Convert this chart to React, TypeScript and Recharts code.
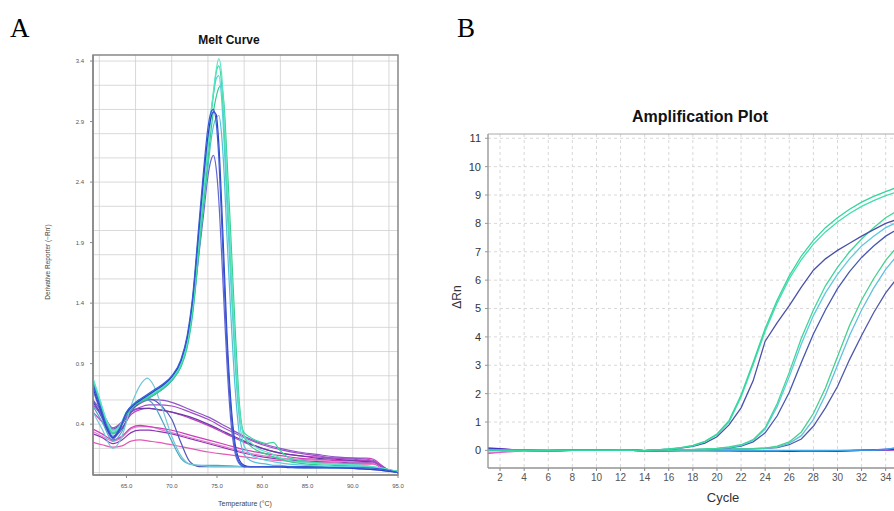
import React from 'react';
import { LineChart, Line, XAxis, YAxis, CartesianGrid, ReferenceArea } from 'recharts';

// ---------- A: melt curve ----------
const meltTempsMain = [61.3, 62, 62.8, 63.5, 64.2, 65, 66, 67, 68, 69, 70, 71, 71.7, 72.3, 73, 73.5, 74, 74.3, 74.6, 74.9, 75.2, 75.5, 75.8, 76.1, 76.5, 77, 77.5, 78, 78.7, 79.5, 80.5, 81.2, 82, 83, 85, 88, 91, 93, 95];
const meltTempsEarly = [61.3, 62.3, 63.5, 64.5, 65.5, 66.5, 67.3, 68, 69, 70, 71, 72, 73, 75, 78, 80, 85, 90, 93, 95];
const meltTempsBroad = [61.3, 62.3, 63.5, 64.5, 65.5, 66.5, 67.5, 68.5, 70, 72, 74, 76, 78, 80, 82, 84, 86, 88, 90, 91.5, 92.3, 93.2, 94, 95];

const meltMain1 = [0.78, 0.62, 0.43, 0.34, 0.38, 0.5, 0.58, 0.62, 0.66, 0.71, 0.78, 0.9, 1.08, 1.38, 1.95, 2.35, 2.72, 2.95, 3.15, 3.32, 3.42, 3.3, 2.95, 2.45, 1.85, 1.05, 0.5, 0.3, 0.25, 0.2, 0.17, 0.15, 0.12, 0.1, 0.08, 0.07, 0.06, 0.04, 0.01];
const meltMain2 = [0.76, 0.6, 0.41, 0.33, 0.37, 0.49, 0.57, 0.61, 0.65, 0.7, 0.77, 0.88, 1.05, 1.35, 1.9, 2.3, 2.68, 2.92, 3.12, 3.3, 3.36, 3.22, 2.85, 2.35, 1.75, 1.0, 0.48, 0.33, 0.29, 0.26, 0.24, 0.25, 0.18, 0.12, 0.09, 0.07, 0.06, 0.04, 0.01];
const meltMain3 = [0.74, 0.59, 0.41, 0.32, 0.36, 0.48, 0.56, 0.6, 0.64, 0.69, 0.76, 0.87, 1.03, 1.3, 1.82, 2.2, 2.58, 2.8, 2.98, 3.1, 3.18, 3.2, 3.02, 2.6, 2.0, 1.2, 0.55, 0.3, 0.22, 0.18, 0.15, 0.13, 0.11, 0.09, 0.07, 0.06, 0.05, 0.03, 0.01];
const meltMain4 = [0.77, 0.61, 0.43, 0.35, 0.38, 0.5, 0.58, 0.62, 0.67, 0.72, 0.79, 0.91, 1.1, 1.4, 1.96, 2.36, 2.72, 2.95, 3.12, 3.25, 3.28, 3.1, 2.7, 2.2, 1.6, 0.9, 0.42, 0.22, 0.15, 0.12, 0.1, 0.09, 0.08, 0.07, 0.06, 0.05, 0.05, 0.03, 0.01];
const meltMain5 = [0.73, 0.57, 0.39, 0.3, 0.36, 0.5, 0.58, 0.63, 0.68, 0.73, 0.8, 0.93, 1.13, 1.45, 2.05, 2.48, 2.85, 2.97, 3.0, 2.9, 2.6, 2.1, 1.55, 1.05, 0.55, 0.2, 0.08, 0.05, 0.05, 0.05, 0.05, 0.05, 0.05, 0.05, 0.05, 0.04, 0.04, 0.03, 0.0];
const meltMain6 = [0.7, 0.55, 0.37, 0.29, 0.35, 0.49, 0.57, 0.62, 0.67, 0.72, 0.79, 0.92, 1.11, 1.42, 2.0, 2.42, 2.78, 2.92, 2.98, 2.96, 2.72, 2.25, 1.7, 1.15, 0.62, 0.24, 0.1, 0.06, 0.05, 0.05, 0.05, 0.05, 0.05, 0.04, 0.04, 0.04, 0.03, 0.02, 0.0];
const meltMain7 = [0.68, 0.53, 0.36, 0.28, 0.34, 0.48, 0.56, 0.6, 0.64, 0.69, 0.76, 0.88, 1.05, 1.33, 1.8, 2.12, 2.45, 2.57, 2.62, 2.52, 2.25, 1.82, 1.35, 0.9, 0.45, 0.16, 0.07, 0.05, 0.05, 0.05, 0.05, 0.05, 0.05, 0.05, 0.04, 0.04, 0.03, 0.02, 0.0];
const meltMain8 = [0.72, 0.58, 0.4, 0.32, 0.36, 0.49, 0.57, 0.61, 0.66, 0.71, 0.78, 0.89, 1.06, 1.35, 1.85, 2.2, 2.52, 2.72, 2.86, 2.93, 2.95, 2.8, 2.45, 1.95, 1.35, 0.7, 0.3, 0.15, 0.1, 0.08, 0.07, 0.06, 0.06, 0.05, 0.05, 0.05, 0.04, 0.03, 0.0];

const meltEarly1 = [0.5, 0.36, 0.2, 0.3, 0.55, 0.72, 0.78, 0.72, 0.52, 0.3, 0.14, 0.07, 0.06, 0.05, 0.05, 0.05, 0.04, 0.04, 0.03, 0.0];
const meltEarly2 = [0.6, 0.45, 0.29, 0.36, 0.5, 0.58, 0.61, 0.6, 0.54, 0.44, 0.25, 0.09, 0.05, 0.05, 0.05, 0.05, 0.04, 0.04, 0.03, 0.0];
const meltEarly3 = [0.55, 0.42, 0.26, 0.34, 0.52, 0.6, 0.6, 0.56, 0.42, 0.26, 0.12, 0.07, 0.06, 0.06, 0.05, 0.05, 0.04, 0.04, 0.03, 0.0];

const meltBroad1 = [0.6, 0.5, 0.37, 0.42, 0.52, 0.57, 0.6, 0.6, 0.58, 0.52, 0.46, 0.38, 0.3, 0.24, 0.2, 0.17, 0.15, 0.13, 0.12, 0.11, 0.1, 0.05, 0.02, 0.01];
const meltBroad2 = [0.56, 0.47, 0.35, 0.4, 0.5, 0.54, 0.56, 0.56, 0.55, 0.5, 0.44, 0.36, 0.29, 0.23, 0.19, 0.16, 0.14, 0.12, 0.11, 0.1, 0.09, 0.05, 0.02, 0.01];
const meltBroad3 = [0.58, 0.48, 0.36, 0.41, 0.5, 0.53, 0.53, 0.52, 0.5, 0.46, 0.4, 0.33, 0.26, 0.2, 0.16, 0.14, 0.12, 0.11, 0.1, 0.09, 0.09, 0.05, 0.02, 0.01];
const meltBroad4 = [0.5, 0.42, 0.33, 0.37, 0.48, 0.52, 0.53, 0.52, 0.5, 0.45, 0.39, 0.32, 0.25, 0.2, 0.16, 0.14, 0.13, 0.12, 0.12, 0.12, 0.11, 0.06, 0.02, 0.01];
const meltBroad5 = [0.36, 0.32, 0.27, 0.3, 0.37, 0.39, 0.38, 0.37, 0.35, 0.31, 0.27, 0.23, 0.19, 0.16, 0.14, 0.12, 0.11, 0.1, 0.1, 0.1, 0.09, 0.05, 0.02, 0.01];
const meltBroad6 = [0.34, 0.3, 0.26, 0.29, 0.36, 0.38, 0.38, 0.36, 0.33, 0.29, 0.25, 0.21, 0.17, 0.14, 0.12, 0.11, 0.1, 0.09, 0.09, 0.09, 0.08, 0.04, 0.02, 0.01];
const meltBroad7 = [0.32, 0.29, 0.24, 0.27, 0.33, 0.35, 0.35, 0.34, 0.32, 0.28, 0.24, 0.2, 0.16, 0.13, 0.11, 0.1, 0.09, 0.09, 0.08, 0.08, 0.08, 0.04, 0.02, 0.01];
const meltBroad8 = [0.25, 0.23, 0.21, 0.22, 0.26, 0.27, 0.26, 0.25, 0.23, 0.2, 0.17, 0.15, 0.13, 0.11, 0.1, 0.09, 0.08, 0.08, 0.07, 0.07, 0.07, 0.04, 0.02, 0.01];

const meltXTicks = [65, 70, 75, 80, 85, 90, 95];
const meltYTicks = [0.4, 0.9, 1.4, 1.9, 2.4, 2.9, 3.4];

// ---------- B: amplification plot ----------
const cycles = [1, 2, 3, 4, 5, 6, 7, 8, 9, 10, 11, 12, 13, 14, 15, 16, 17, 18, 19, 20, 21, 22, 23, 24, 25, 26, 27, 28, 29, 30, 31, 32, 33, 34, 35, 36, 37, 38, 39, 40];

const ampG1a = [0.02, 0.01, 0.01, 0, -0.01, -0.01, 0, 0, 0, 0, 0, 0.01, 0, -0.01, 0.02, 0.05, 0.1, 0.18, 0.32, 0.58, 1.05, 1.95, 3.1, 4.3, 5.3, 6.15, 6.85, 7.4, 7.85, 8.2, 8.5, 8.75, 8.95, 9.12, 9.28, 9.4, 9.5, 9.58, 9.65, 9.7];
const ampG1b = [0.01, 0.01, 0, 0, -0.01, 0, 0, 0, 0, 0, 0, 0.01, 0, -0.01, 0.02, 0.04, 0.09, 0.16, 0.3, 0.55, 1.0, 1.88, 3.02, 4.2, 5.2, 6.05, 6.72, 7.27, 7.7, 8.05, 8.35, 8.6, 8.8, 8.98, 9.12, 9.24, 9.34, 9.42, 9.48, 9.53];
const ampG1c = [0.03, 0.02, 0.01, 0, -0.01, -0.01, 0, 0, 0, 0, 0, 0.01, 0, -0.01, 0.02, 0.04, 0.08, 0.14, 0.26, 0.48, 0.9, 1.5, 2.45, 3.85, 4.5, 5.1, 5.75, 6.35, 6.75, 7.05, 7.3, 7.55, 7.78, 8.0, 8.15, 8.28, 8.38, 8.46, 8.52, 8.57];
const ampG2a = [0.01, 0.01, 0, 0, 0, -0.01, 0, 0, 0, 0, 0, 0.01, 0, -0.01, 0, 0.01, 0.02, 0.03, 0.05, 0.07, 0.12, 0.2, 0.38, 0.8, 1.65, 2.75, 3.95, 4.95, 5.8, 6.45, 7.0, 7.45, 7.85, 8.2, 8.45, 8.65, 8.8, 8.92, 9.0, 9.06];
const ampG2b = [0.02, 0.01, 0, 0, -0.01, -0.01, 0, 0, 0, 0, 0, 0.01, 0, -0.01, 0, 0.01, 0.02, 0.03, 0.04, 0.06, 0.1, 0.18, 0.35, 0.75, 1.55, 2.6, 3.75, 4.75, 5.55, 6.2, 6.75, 7.2, 7.55, 7.85, 8.05, 8.22, 8.35, 8.45, 8.52, 8.58];
const ampG2c = [0.03, 0.02, 0.01, 0, -0.01, -0.01, 0, 0, 0, 0, 0, 0.01, 0, -0.01, 0, 0.01, 0.02, 0.03, 0.04, 0.06, 0.09, 0.15, 0.3, 0.62, 1.22, 2.05, 3.1, 4.1, 4.95, 5.7, 6.3, 6.8, 7.2, 7.55, 7.8, 8.0, 8.15, 8.27, 8.36, 8.43];
const ampG3a = [0.01, 0, 0, 0, 0, -0.01, 0, 0, 0, 0, 0, 0.01, 0, -0.01, 0, 0, 0.01, 0.01, 0.02, 0.03, 0.04, 0.05, 0.06, 0.08, 0.15, 0.3, 0.65, 1.3, 2.2, 3.3, 4.4, 5.3, 6.05, 6.7, 7.2, 7.6, 7.9, 8.12, 8.28, 8.4];
const ampG3b = [0.02, 0.01, 0, 0, -0.01, -0.01, 0, 0, 0, 0, 0, 0.01, 0, -0.01, 0, 0, 0.01, 0.01, 0.02, 0.03, 0.04, 0.05, 0.06, 0.07, 0.12, 0.25, 0.52, 1.08, 1.95, 3.0, 4.05, 4.95, 5.72, 6.38, 6.9, 7.32, 7.65, 7.9, 8.08, 8.2];
const ampG3c = [0.03, 0.02, 0.01, 0, -0.01, -0.01, 0, 0, 0, 0, 0, 0.01, 0, -0.01, 0, 0, 0.01, 0.01, 0.02, 0.03, 0.04, 0.05, 0.06, 0.07, 0.1, 0.2, 0.4, 0.85, 1.5, 2.25, 3.2, 4.05, 4.85, 5.55, 6.1, 6.55, 6.9, 7.15, 7.35, 7.5];

const ampN1 = [0.09, 0.06, 0.03, 0.01, 0, -0.01, -0.01, 0, 0, 0, 0, 0.01, 0, -0.01, -0.01, -0.01, -0.01, -0.01, -0.01, -0.01, -0.01, -0.01, -0.01, -0.01, -0.01, -0.02, -0.01, -0.01, -0.01, -0.02, -0.01, 0, 0.01, 0.02, 0.03, 0.03, 0.04, 0.04, 0.05, 0.05];
const ampN2 = [-0.1, -0.07, -0.04, -0.02, -0.01, 0, 0, 0, 0, 0, 0.01, 0.03, 0.01, -0.02, -0.01, -0.01, 0, 0, 0, 0, 0, -0.01, -0.01, -0.01, -0.01, -0.01, -0.01, -0.01, -0.02, -0.03, -0.01, 0, 0, 0.01, 0.01, 0.01, 0.02, 0.02, 0.02, 0.02];
const ampN3 = [-0.06, -0.05, -0.03, -0.02, -0.01, 0, 0, 0, 0, 0, 0, 0.02, 0.01, -0.01, -0.01, 0, 0, 0, 0, 0, 0, 0, 0, -0.01, -0.01, -0.01, -0.01, -0.01, -0.01, -0.02, -0.01, 0, 0, 0, 0.01, 0.01, 0.01, 0.01, 0.01, 0.01];
const ampN4 = [0.05, 0.04, 0.02, 0.01, 0, -0.01, -0.01, 0, 0, 0, 0, 0, 0, -0.01, -0.01, -0.01, -0.01, -0.01, -0.01, -0.01, -0.01, -0.02, -0.02, -0.02, -0.02, -0.03, -0.02, -0.02, -0.02, -0.02, -0.01, 0, 0.02, 0.03, 0.04, 0.05, 0.05, 0.06, 0.06, 0.06];
const ampN5 = [0.04, 0.03, 0.02, 0.01, 0, 0, -0.01, 0, 0, 0, 0, 0, 0, -0.01, -0.01, -0.01, 0, 0, 0, -0.01, -0.01, -0.01, -0.01, -0.01, -0.01, -0.02, -0.01, -0.01, -0.01, -0.01, 0, 0.01, 0.02, 0.04, 0.06, 0.07, 0.08, 0.08, 0.09, 0.09];
const ampN6 = [0.01, 0.01, 0, 0, 0, 0, 0, 0, 0, 0, 0, 0, 0, 0, 0, 0, 0, 0, 0, 0, 0, 0, 0, 0, 0, 0, 0, 0, 0, 0, 0, 0.01, 0.01, 0.03, 0.12, 0.2, 0.28, 0.35, 0.42, 0.48];

// only the cycle labels that fit in the visible part of the plot
const ampXTicks = [2, 4, 6, 8, 10, 12, 14, 16, 18, 20, 22, 24, 26, 28, 30, 32, 34];
const ampYTicks = [0, 1, 2, 3, 4, 5, 6, 7, 8, 9, 10, 11];

// series styling
const meltSeries = [
  { key: 'b8', temps: meltTempsBroad, values: meltBroad8, color: '#e25ab4' },
  { key: 'b7', temps: meltTempsBroad, values: meltBroad7, color: '#8a34b8' },
  { key: 'b6', temps: meltTempsBroad, values: meltBroad6, color: '#e07ccc' },
  { key: 'b5', temps: meltTempsBroad, values: meltBroad5, color: '#cf3cb8' },
  { key: 'b4', temps: meltTempsBroad, values: meltBroad4, color: '#c640c0' },
  { key: 'b3', temps: meltTempsBroad, values: meltBroad3, color: '#6a3aa8' },
  { key: 'b2', temps: meltTempsBroad, values: meltBroad2, color: '#a24cc8' },
  { key: 'b1', temps: meltTempsBroad, values: meltBroad1, color: '#8e58c4' },
  { key: 'e3', temps: meltTempsEarly, values: meltEarly3, color: '#4aa8c4' },
  { key: 'e2', temps: meltTempsEarly, values: meltEarly2, color: '#5058bc' },
  { key: 'e1', temps: meltTempsEarly, values: meltEarly1, color: '#74c6d6' },
  { key: 'm7', temps: meltTempsMain, values: meltMain7, color: '#6666d2' },
  { key: 'm8', temps: meltTempsMain, values: meltMain8, color: '#52c0d8' },
  { key: 'm3', temps: meltTempsMain, values: meltMain3, color: '#34cc8c' },
  { key: 'm4', temps: meltTempsMain, values: meltMain4, color: '#5ccfe0' },
  { key: 'm2', temps: meltTempsMain, values: meltMain2, color: '#3ad8a0' },
  { key: 'm1', temps: meltTempsMain, values: meltMain1, color: '#5ae6c4' },
  { key: 'm6', temps: meltTempsMain, values: meltMain6, color: '#2a40c6' },
  { key: 'm5', temps: meltTempsMain, values: meltMain5, color: '#3a5ad8' },
];

const ampSeries = [
  { key: 'n2', values: ampN2, color: '#d244c4' },
  { key: 'n3', values: ampN3, color: '#e27ed2' },
  { key: 'n1', values: ampN1, color: '#7a2ed0' },
  { key: 'n4', values: ampN4, color: '#2a2aa8' },
  { key: 'n5', values: ampN5, color: '#3050e0' },
  { key: 'n6', values: ampN6, color: '#40a8e8' },
  { key: 'g3c', values: ampG3c, color: '#5058aa' },
  { key: 'g3b', values: ampG3b, color: '#62bfe0' },
  { key: 'g3a', values: ampG3a, color: '#45d08f' },
  { key: 'g2c', values: ampG2c, color: '#4858b0' },
  { key: 'g2b', values: ampG2b, color: '#60c8e0' },
  { key: 'g2a', values: ampG2a, color: '#3fd69a' },
  { key: 'g1c', values: ampG1c, color: '#4a50a8' },
  { key: 'g1b', values: ampG1b, color: '#45dcb0' },
  { key: 'g1a', values: ampG1a, color: '#33d69c' },
];

const ampData = cycles.map((c, i) => {
  const row: Record<string, number> = { cycle: c };
  ampSeries.forEach((s) => { row[s.key] = s.values[i]; });
  return row;
});

// grid lines: every 1 °C and every 0.1 on the melt plot, every 2 cycles on the amplification plot
const meltGridX = Array.from({ length: 33 }, (_, i) => 62 + i);
const meltGridY = Array.from({ length: 35 }, (_, i) => i / 10);
const ampGridX = Array.from({ length: 20 }, (_, i) => 2 + i * 2);

const sans = '"Liberation Sans", Arial, Helvetica, sans-serif';
const serif = '"Liberation Serif", "Times New Roman", serif';

const abs = (left: number, top: number, extra: React.CSSProperties = {}): React.CSSProperties => ({
  position: 'absolute', left, top, transform: 'translate(-50%, -50%)', whiteSpace: 'nowrap', ...extra,
});

export default function App() {
  return (
    <div style={{ position: 'fixed', left: 0, top: 0, width: 894, height: 511, overflow: 'hidden', background: '#fff', fontFamily: sans }}>
      <div style={{ position: 'absolute', left: 10, top: 13, fontFamily: serif, fontSize: 27, lineHeight: '30px' }}>A</div>
      <div style={{ position: 'absolute', left: 457, top: 13, fontFamily: serif, fontSize: 27, lineHeight: '30px' }}>B</div>

      {/* Panel A */}
      <div style={abs(229, 40, { fontSize: 12, fontWeight: 700, color: '#111' })}>Melt Curve</div>
      <div style={abs(245, 503, { fontSize: 7, color: '#444' })}>Temperature (°C)</div>
      <div style={abs(47, 262, { fontSize: 6.5, color: '#444', transform: 'translate(-50%, -50%) rotate(-90deg)' })}>Derivative Reporter (−Rn′)</div>
      <div style={{ position: 'absolute', left: 0, top: 0 }}>
        <LineChart width={430} height={511} margin={{ top: 55, right: 32, bottom: 16, left: 63 }}>
          <CartesianGrid stroke="#cfcfcf" strokeWidth={0.8} verticalValues={meltGridX} horizontalValues={meltGridY} />
          <XAxis
            dataKey="t"
            type="number"
            domain={[61.3, 95]}
            ticks={meltXTicks}
            allowDataOverflow
            tickFormatter={(v: number) => v.toFixed(1)}
            tick={{ fontSize: 6, fill: '#555' }}
            tickSize={3}
            tickMargin={6}
            height={20}
            axisLine={{ stroke: '#888', strokeWidth: 1.5 }}
            tickLine={{ stroke: '#888' }}
          />
          <YAxis
            type="number"
            domain={[-0.02, 3.45]}
            ticks={meltYTicks}
            allowDataOverflow
            tickFormatter={(v: number) => v.toFixed(1)}
            tick={{ fontSize: 6, fill: '#555' }}
            tickSize={3}
            tickMargin={6}
            width={30}
            axisLine={{ stroke: '#888', strokeWidth: 1.5 }}
            tickLine={{ stroke: '#888' }}
          />
          <ReferenceArea x1={61.3} x2={95} y1={-0.02} y2={3.45} fill="none" stroke="#888" strokeWidth={1.5} />
          {meltSeries.map((s) => (
            <Line
              key={s.key}
              name={s.key}
              data={s.temps.map((t, i) => ({ t, v: s.values[i] }))}
              dataKey="v"
              type="monotone"
              stroke={s.color}
              strokeWidth={1.2}
              dot={false}
              isAnimationActive={false}
            />
          ))}
        </LineChart>
      </div>

      {/* Panel B */}
      <div style={abs(700, 117, { fontSize: 16, fontWeight: 700, color: '#111' })}>Amplification Plot</div>
      <div style={abs(723, 497, { fontSize: 13, color: '#333' })}>Cycle</div>
      <div style={abs(457, 297, { fontSize: 12, color: '#333', transform: 'translate(-50%, -50%) rotate(-90deg)' })}>ΔRn</div>
      <div style={{ position: 'absolute', left: 440, top: 0 }}>
        <LineChart width={540} height={511} data={ampData} margin={{ top: 134, right: 22, bottom: 21, left: 20 }}>
          <CartesianGrid stroke="#d8d8d8" strokeDasharray="3 3" verticalValues={ampGridX} horizontalValues={ampYTicks} />
          <XAxis
            dataKey="cycle"
            type="number"
            domain={[1, 40]}
            ticks={ampXTicks}
            allowDataOverflow
            tick={{ fontSize: 10, fill: '#555' }}
            tickSize={3}
            tickMargin={3}
            height={22}
            axisLine={{ stroke: '#888' }}
            tickLine={{ stroke: '#888' }}
          />
          <YAxis
            type="number"
            domain={[-0.62, 11.15]}
            ticks={ampYTicks}
            allowDataOverflow
            tick={{ fontSize: 11, fill: '#333' }}
            tickSize={3}
            tickMargin={4}
            width={28}
            axisLine={{ stroke: '#999' }}
            tickLine={{ stroke: '#999' }}
          />
          <ReferenceArea x1={1} x2={40} y1={-0.62} y2={11.15} fill="none" stroke="#aaa" />
          {ampSeries.map((s) => (
            <Line
              key={s.key}
              dataKey={s.key}
              type="linear"
              stroke={s.color}
              strokeWidth={1.3}
              dot={false}
              isAnimationActive={false}
            />
          ))}
        </LineChart>
      </div>
    </div>
  );
}
